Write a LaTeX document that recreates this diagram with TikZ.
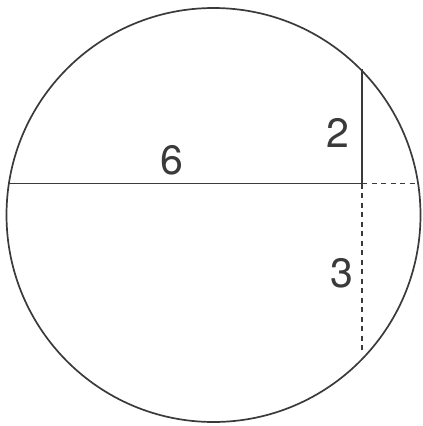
\documentclass[tikz,border=0pt]{standalone}
\usepackage{fontspec}
\setmainfont{TeX Gyre Heros}
\definecolor{trazoGris}{HTML}{3A3A3A}
\usetikzlibrary{positioning,calc}
\tikzset{
	trazoSolido/.style={
		draw=trazoGris,
		line width=1.7pt
	},
	trazoGuion/.style={
		draw=trazoGris,
		line width=1.7pt,
		dash pattern=on 5pt off 4.5pt
	},
	etiquetaCuerda/.style={
		text=trazoGris,
		inner sep=0pt,
		font=\fontsize{41}{41}\selectfont
	}
}
\begin{document}
\begin{tikzpicture}[x=1pt, y=-1pt]
		\useasboundingbox (0,0) rectangle (423,426);
		\draw[trazoSolido] (213.5,215) circle[radius=207];
		\coordinate (izqCuerda) at (8.9,183.5);
		\coordinate (cruce) at (362,183.5);
		\coordinate (derCuerda) at (415,183.5);
		\coordinate (arribaCuerda) at (362,69);
		\coordinate (abajoCuerda) at (362,352);
		\draw[trazoSolido] (izqCuerda) -- (cruce) -- (arribaCuerda);
		\draw[trazoGuion] (cruce) -- (derCuerda);
		\draw[trazoGuion] (cruce) -- (abajoCuerda);
		\node[etiquetaCuerda] (seis) at (172,160) {6};
		\node[etiquetaCuerda] (dos) at (338,133) {2};
		\node[etiquetaCuerda] (tres) at (342,273) {3};
	\end{tikzpicture}
\end{document}
